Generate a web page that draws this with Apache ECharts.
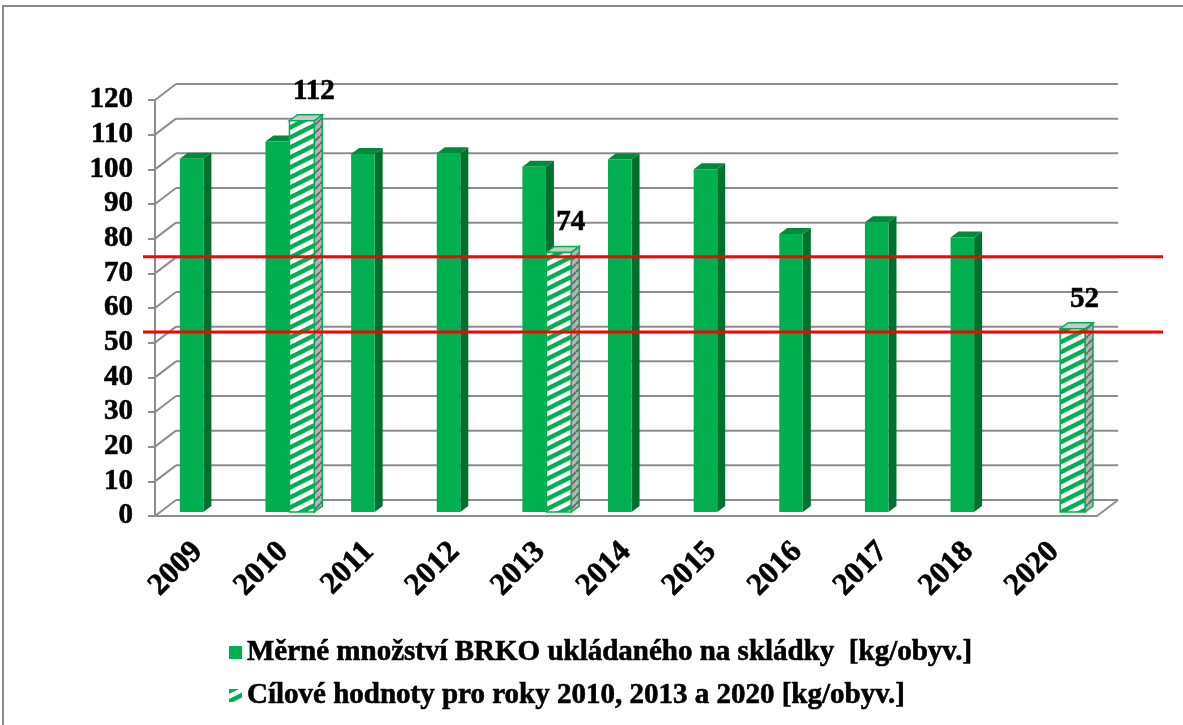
<!DOCTYPE html>
<html>
<head>
<meta charset="utf-8">
<script src="https://cdn.jsdelivr.net/npm/echarts@6/dist/echarts.min.js"></script>
<style>
  html, body { margin: 0; padding: 0; background: #fff; }
  #chart { width: 1183px; height: 725px; }
</style>
</head>
<body>
<div id="chart"></div>
<script>
// data
const years = ["2009", "2010", "2011", "2012", "2013", "2014", "2015", "2016", "2017", "2018", "2020"];
const landfilled = [101, 106, 102.4, 102.6, 98.7, 100.9, 98, 79.3, 82.7, 78.3, null];
const targets = [null, 112, null, null, 74, null, null, null, null, null, 52];
const yTicks = [0, 10, 20, 30, 40, 50, 60, 70, 80, 90, 100, 110, 120];
const limitLines = [74.8, 53.1];

const nameLandfilled = "Měrné množství BRKO ukládaného na skládky  [kg/obyv.]";
const nameTargets = "Cílové hodnoty pro roky 2010, 2013 a 2020 [kg/obyv.]";

const FONT = "'Liberation Serif', 'Times New Roman', serif";
const GRID_GRAY = "#8c8c8c";
const GREEN = "#00b050";
const WALL_DX = 21, WALL_DY = 16;   // depth of the back wall
const BAR_DX = 8, BAR_DY = 6;       // depth of one column

// text a bit heavier, like the original
const heavy = {color: "#000", fontFamily: FONT, fontWeight: "bold", textBorderColor: "#000", textBorderWidth: 0.6};

// hatch patterns for the target columns
function hatchFront(){
    const c = document.createElement("canvas");
    c.width = 20; c.height = 10;
    const ctx = c.getContext("2d");
    ctx.fillStyle = GREEN;
    ctx.fillRect(0, 0, 20, 10);
    ctx.fillStyle = "#ffffff";
    [-10, 0, 10].forEach(off => {
        ctx.beginPath();
        ctx.moveTo(0, off + 10);
        ctx.lineTo(20, off);
        ctx.lineTo(20, off - 5);
        ctx.lineTo(0, off + 5);
        ctx.closePath();
        ctx.fill();
    });
    return c;
}

function hatchSide(){
    const c = document.createElement("canvas");
    c.width = 8; c.height = 8;
    const ctx = c.getContext("2d");
    ctx.fillStyle = "#b4b4b4";
    ctx.fillRect(0, 0, 8, 8);
    ctx.strokeStyle = "#6e6e6e";
    ctx.lineWidth = 2;
    [-8, 0, 8].forEach(off => {
        ctx.beginPath();
        ctx.moveTo(0, off + 8);
        ctx.lineTo(8, off);
        ctx.stroke();
    });
    return c;
}

const frontPattern = {image: hatchFront(), repeat: "repeat"};
const sidePattern = {image: hatchSide(), repeat: "repeat"};

function box(x, yt, yb, w, front, side, top, stroke){
    const st = stroke ? {stroke: stroke, lineWidth: 1.5} : {};
    return [
        {type: "polygon", shape: {points: [[x + w, yt], [x + w + BAR_DX, yt - BAR_DY], [x + w + BAR_DX, yb - BAR_DY], [x + w, yb]]},
         style: Object.assign({fill: side}, st)},
        {type: "polygon", shape: {points: [[x, yt], [x + BAR_DX, yt - BAR_DY], [x + w + BAR_DX, yt - BAR_DY], [x + w, yt]]},
         style: Object.assign({fill: top}, st)},
        {type: "rect", shape: {x: x, y: yt, width: w, height: yb - yt},
         style: Object.assign({fill: front}, st)}
    ];
}

function renderWall(params, api){
    const cs = params.coordSys;
    const v = api.value(1);
    const y = api.coord([0, v])[1];
    const line = (x1, y1, x2, y2) => ({type: "line", shape: {x1, y1, x2, y2}, style: {stroke: GRID_GRAY, lineWidth: 2}});
    const children = [
        line(cs.x, y, cs.x + WALL_DX, y - WALL_DY),
        line(cs.x + WALL_DX, y - WALL_DY, cs.x + cs.width + WALL_DX, y - WALL_DY)
    ];
    if (v === 0) children.push(line(cs.x + cs.width, y, cs.x + cs.width + WALL_DX, y - WALL_DY));
    return {type: "group", children};
}

function renderLandfilled(params, api){
    const cat = api.value(0), val = api.value(1);
    const bw = api.size([1, 0])[0];
    const p0 = api.coord([cat, 0]);
    const p1 = api.coord([cat, val]);
    const x = p0[0] - 0.21 * bw;
    const w = 0.275 * bw;
    return {type: "group", children: box(x, p1[1] - 7, p0[1] - 4, w, GREEN, "#00702f", "#008a3c")};
}

function renderTargets(params, api){
    const cat = api.value(0), val = api.value(1);
    const bw = api.size([1, 0])[0];
    const p0 = api.coord([cat, 0]);
    const p1 = api.coord([cat, val]);
    const x = p0[0] + 0.07 * bw;
    const w = 0.29 * bw;
    const yt = p1[1] - 7;
    const children = box(x, yt, p0[1] - 4, w, frontPattern, sidePattern, "#c9c9c9", GREEN);
    children.push({
        type: "text",
        style: {
            x: x + w / 2 + 12, y: yt - BAR_DY - 9,
            text: String(Math.round(val)),
            fill: "#000", font: "bold 29px " + FONT,
            stroke: "#000", lineWidth: 0.6,
            align: "center", verticalAlign: "bottom"
        }
    });
    return {type: "group", children};
}

function renderLimit(params, api){
    const cs = params.coordSys;
    const y = api.coord([0, api.value(1)])[1];
    return {type: "line", shape: {x1: cs.x - 12, y1: y, x2: cs.x + cs.width + 66, y2: y},
            style: {stroke: "#ff0000", lineWidth: 3}};
}

const chart = echarts.init(document.getElementById("chart"), null, {renderer: "canvas"});

chart.setOption({
    animation: false,
    backgroundColor: "#ffffff",
    graphic: [{
        type: "rect", silent: true,
        shape: {x: 3, y: 6, width: 1200, height: 740},
        style: {fill: "none", stroke: "#8a8a8a", lineWidth: 2}
    }],
    grid: {left: 155, right: 86, top: 100, bottom: 209, containLabel: false},
    xAxis: {
        type: "category",
        data: years,
        axisLine: {lineStyle: {color: GRID_GRAY, width: 2}},
        axisTick: {length: 8, lineStyle: {color: GRID_GRAY, width: 2}},
        axisLabel: Object.assign({interval: 0, rotate: 45, margin: 31, fontSize: 31}, heavy),
        splitLine: {show: false}
    },
    yAxis: {
        type: "value",
        min: 0, max: 120, interval: 10,
        axisLine: {show: true, lineStyle: {color: GRID_GRAY, width: 2}},
        axisTick: {show: true, length: 7, lineStyle: {color: GRID_GRAY, width: 2}},
        axisLabel: Object.assign({margin: 22, fontSize: 29}, heavy),
        splitLine: {show: false}
    },
    legend: {
        data: [nameLandfilled, nameTargets],
        orient: "vertical",
        left: 224, top: 632,
        itemWidth: 13, itemHeight: 13, itemGap: 12,
        icon: "rect",
        textStyle: Object.assign({fontSize: 29, lineHeight: 31}, heavy)
    },
    series: [
        {
            type: "custom", name: "wall", z: 1, silent: true,
            renderItem: renderWall,
            data: yTicks.map(v => [0, v])
        },
        {
            type: "custom", name: nameLandfilled, z: 3,
            itemStyle: {color: GREEN},
            renderItem: renderLandfilled,
            data: landfilled.map((v, i) => [i, v]).filter(d => d[1] !== null)
        },
        {
            type: "custom", name: nameTargets, z: 4,
            itemStyle: {color: frontPattern, borderColor: GREEN},
            renderItem: renderTargets,
            data: targets.map((v, i) => [i, v]).filter(d => d[1] !== null)
        },
        {
            type: "custom", name: "limits", z: 5, silent: true,
            renderItem: renderLimit,
            data: limitLines.map(v => [0, v])
        }
    ]
});
</script>
</body>
</html>
